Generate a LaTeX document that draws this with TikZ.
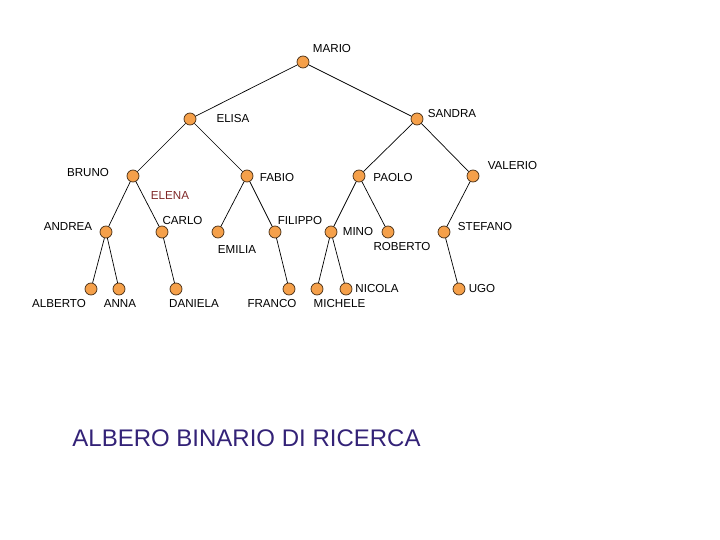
\documentclass[tikz,border=0pt]{standalone}
\usepackage{fontspec}
\setmainfont{Liberation Sans}
\definecolor{nodeorange}{RGB}{245,160,74}
\definecolor{nodeborder}{RGB}{70,45,20}
\definecolor{titleblue}{RGB}{51,34,119}
\definecolor{elenared}{RGB}{128,40,40}
\begin{document}
\begin{tikzpicture}[x=1pt,y=-1pt,
  tnode/.style={circle,fill=nodeorange,draw=nodeborder,line width=0.7pt,minimum size=12pt,inner sep=0pt},
  lbl/.style={inner sep=0pt,font=\fontsize{11.6}{13}\selectfont},
  edge/.style={draw=black,line width=0.7pt}]
\useasboundingbox (0,0) rectangle (720,540);
% nodes
\node[tnode] (mario) at (303,62) {};
\node[tnode] (elisa) at (190,119) {};
\node[tnode] (sandra) at (417,119) {};
\node[tnode] (bruno) at (133,176) {};
\node[tnode] (fabio) at (247,176) {};
\node[tnode] (paolo) at (359,176) {};
\node[tnode] (valerio) at (473,176) {};
\node[tnode] (andrea) at (106,232) {};
\node[tnode] (carlo) at (162,232) {};
\node[tnode] (emilia) at (218,232) {};
\node[tnode] (filippo) at (275,232) {};
\node[tnode] (mino) at (331,232) {};
\node[tnode] (roberto) at (388,232) {};
\node[tnode] (stefano) at (444,232) {};
\node[tnode] (alberto) at (91,289) {};
\node[tnode] (anna) at (119,289) {};
\node[tnode] (daniela) at (176,289) {};
\node[tnode] (franco) at (289,289) {};
\node[tnode] (michele) at (317,289) {};
\node[tnode] (nicola) at (346,289) {};
\node[tnode] (ugo) at (459,289) {};
% edges
\draw[edge] (mario) -- (elisa);
\draw[edge] (mario) -- (sandra);
\draw[edge] (elisa) -- (bruno);
\draw[edge] (elisa) -- (fabio);
\draw[edge] (sandra) -- (paolo);
\draw[edge] (sandra) -- (valerio);
\draw[edge] (bruno) -- (andrea);
\draw[edge] (bruno) -- (carlo);
\draw[edge] (fabio) -- (emilia);
\draw[edge] (fabio) -- (filippo);
\draw[edge] (paolo) -- (mino);
\draw[edge] (paolo) -- (roberto);
\draw[edge] (valerio) -- (stefano);
\draw[edge] (andrea) -- (alberto);
\draw[edge] (andrea) -- (anna);
\draw[edge] (carlo) -- (daniela);
\draw[edge] (filippo) -- (franco);
\draw[edge] (mino) -- (michele);
\draw[edge] (mino) -- (nicola);
\draw[edge] (stefano) -- (ugo);
% labels
\node[lbl] (lmario) at (332,49) {MARIO};
\node[lbl] (lelisa) at (233,119) {ELISA};
\node[lbl] (lsandra) at (452,114) {SANDRA};
\node[lbl] (lbruno) at (88,173) {BRUNO};
\node[lbl] (lfabio) at (277,178) {FABIO};
\node[lbl,text=elenared] (lelena) at (170,196) {ELENA};
\node[lbl] (lpaolo) at (393,178) {PAOLO};
\node[lbl] (lvalerio) at (512.5,166) {VALERIO};
\node[lbl] (landrea) at (68,226.5) {ANDREA};
\node[lbl] (lcarlo) at (182.5,221) {CARLO};
\node[lbl] (lemilia) at (237,250) {EMILIA};
\node[lbl] (lfilippo) at (300,221) {FILIPPO};
\node[lbl] (lmino) at (358,232) {MINO};
\node[lbl] (lroberto) at (402,247) {ROBERTO};
\node[lbl] (lstefano) at (485,227) {STEFANO};
\node[lbl] (lalberto) at (59,304) {ALBERTO};
\node[lbl] (lanna) at (120,304) {ANNA};
\node[lbl] (ldaniela) at (194,304) {DANIELA};
\node[lbl] (lfranco) at (272,304) {FRANCO};
\node[lbl] (lmichele) at (339.5,304) {MICHELE};
\node[lbl] (lnicola) at (377,289) {NICOLA};
\node[lbl] (lugo) at (482,289) {UGO};
\node[inner sep=0pt,text=titleblue,font=\fontsize{24}{28}\selectfont] (title) at (246.5,438) {ALBERO BINARIO DI RICERCA};
\end{tikzpicture}
\end{document}
